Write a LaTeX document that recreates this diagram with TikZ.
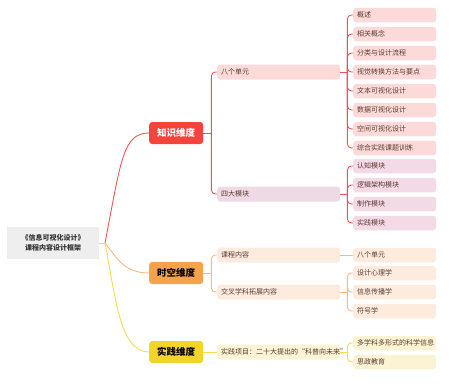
\documentclass[tikz,border=0pt]{standalone}
\usepackage{fontspec}
\newfontfamily\cjk{Noto Sans CJK SC}
\usepackage{xcolor}
\usetikzlibrary{positioning}

\definecolor{RootGray}{HTML}{EEEEEE}
\definecolor{RootText}{HTML}{333333}
\definecolor{RedMain}{HTML}{F4443B}
\definecolor{RedLine}{HTML}{F05450}
\definecolor{RedLeaf}{HTML}{FDDADA}
\definecolor{PurpleSub}{HTML}{EEDAE4}
\definecolor{PurpleLeaf}{HTML}{F4DAE7}
\definecolor{OrangeMain}{HTML}{F6A24B}
\definecolor{OrangeLine}{HTML}{F8B982}
\definecolor{OrangeLeaf}{HTML}{FDEBDD}
\definecolor{YellowMain}{HTML}{F3D42B}
\definecolor{YellowLine}{HTML}{F5DC4E}
\definecolor{YellowLeaf}{HTML}{FBF4D4}
\definecolor{LeafText}{HTML}{5A3A32}

\begin{document}
\begin{tikzpicture}[
x=1pt, y=-1pt,
every node/.style={font=\cjk\fontsize{7}{8}\selectfont, text=LeafText},
rootbox/.style={fill=RootGray, minimum width=92pt, minimum height=32pt, align=center, font=\cjk\bfseries\fontsize{7}{10}\selectfont, text=RootText},
dimbox/.style={rounded corners=3pt, minimum width=54pt, minimum height=22pt, anchor=west, font=\cjk\bfseries\fontsize{9.5}{10}\selectfont},
subbox/.style={rounded corners=3pt, text width=115pt, inner xsep=4pt, inner ysep=2pt, minimum height=15pt, align=left, anchor=west},
leafbox/.style={rounded corners=3pt, text width=75pt, inner xsep=4pt, inner ysep=2pt, minimum height=14.5pt, align=left, anchor=west},
link/.style={line width=0.9pt, rounded corners=4pt}
]
\useasboundingbox (0,0) rectangle (457,383);

% root and hub
\node[rootbox] (root) at (53,243) {《信息可视化设计》\\课程内容设计框架};
\coordinate (hub) at (105,243);

% three dimensions
\node[dimbox, fill=RedMain, text=white] (zhishi) at (149,133) {知识维度};
\node[dimbox, fill=OrangeMain, text=black] (shikong) at (149,273) {时空维度};
\node[dimbox, fill=YellowMain, text=black] (shijian) at (149,352) {实践维度};

\draw[link, YellowLine] (root.east) -- (hub);
\draw[link, RedLine] (hub) .. controls (121,160) and (123,133) .. (zhishi.west);
\draw[link, OrangeLine] (hub) .. controls (117,258) and (124,273) .. (shikong.west);
\draw[link, YellowLine] (hub) .. controls (116,300) and (120,352) .. (shijian.west);

% second level
\node[subbox, fill=RedLeaf] (bage) at (217,72) {八个单元};
\node[subbox, fill=PurpleSub] (sida) at (217,194) {四大模块};
\node[subbox, fill=OrangeLeaf] (kecheng) at (217,255) {课程内容};
\node[subbox, fill=OrangeLeaf] (jiaocha) at (217,292) {交叉学科拓展内容};
\node[subbox, fill=YellowLeaf] (xiangmu) at (217,352) {实践项目：二十大提出的“科普向未来”};

\coordinate (zsj) at ([xshift=8pt]zhishi.east);
\coordinate (skj) at ([xshift=8pt]shikong.east);
\draw[link, RedLine] (zhishi.east) -- (zsj);
\draw[link, RedLine] (zsj) |- (bage.west);
\draw[link, RedLine] (zsj) |- (sida.west);
\draw[link, OrangeLine] (shikong.east) -- (skj);
\draw[link, OrangeLine] (skj) |- (kecheng.west);
\draw[link, OrangeLine] (skj) |- (jiaocha.west);
\draw[link, YellowLine] (shijian.east) -- (xiangmu.west);

% leaves
\foreach \txt [count=\i] in {概述,相关概念,分类与设计流程,视觉转换方法与要点,文本可视化设计,数据可视化设计,空间可视化设计,综合实践课题训练}
  \node[leafbox, fill=RedLeaf] (unit\i) at (353,{15+19*(\i-1)}) {\txt};
\foreach \txt [count=\i] in {认知模块,逻辑架构模块,制作模块,实践模块}
  \node[leafbox, fill=PurpleLeaf] (mod\i) at (353,{166+19*(\i-1)}) {\txt};
\node[leafbox, fill=OrangeLeaf] (unitall) at (353,255) {八个单元};
\foreach \txt [count=\i] in {设计心理学,信息传播学,符号学}
  \node[leafbox, fill=OrangeLeaf] (cross\i) at (353,{273+19*(\i-1)}) {\txt};
\node[leafbox, fill=YellowLeaf] (kexue) at (353,343) {多学科多形式的科学信息};
\node[leafbox, fill=YellowLeaf] (sizheng) at (353,362) {思政教育};

\coordinate (bagej) at ([xshift=7pt]bage.east);
\coordinate (sidaj) at ([xshift=7pt]sida.east);
\coordinate (jiaochaj) at ([xshift=7pt]jiaocha.east);
\coordinate (xiangmuj) at ([xshift=7pt]xiangmu.east);
\draw[link, RedLine] (bage.east) -- (bagej);
\foreach \i in {1,...,8}
  \draw[link, RedLine] (bagej) |- (unit\i.west);
\draw[link, RedLine] (sida.east) -- (sidaj);
\foreach \i in {1,...,4}
  \draw[link, RedLine] (sidaj) |- (mod\i.west);
\draw[link, OrangeLine] (kecheng.east) -- (unitall.west);
\draw[link, OrangeLine] (jiaocha.east) -- (jiaochaj);
\foreach \i in {1,...,3}
  \draw[link, OrangeLine] (jiaochaj) |- (cross\i.west);
\draw[link, YellowLine] (xiangmu.east) -- (xiangmuj);
\draw[link, YellowLine] (xiangmuj) |- (kexue.west);
\draw[link, YellowLine] (xiangmuj) |- (sizheng.west);
\end{tikzpicture}
\end{document}
